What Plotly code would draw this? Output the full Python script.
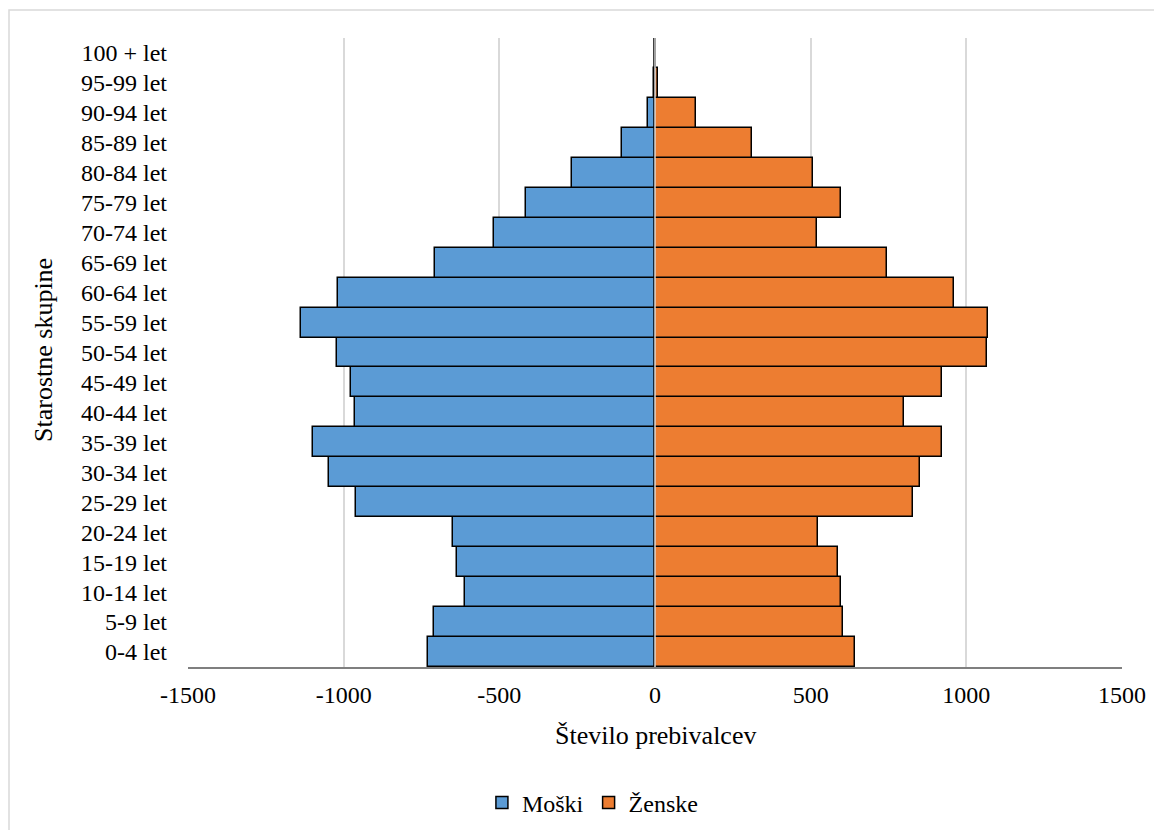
import plotly.graph_objects as go

age_groups = ["0-4 let", "5-9 let", "10-14 let", "15-19 let", "20-24 let", "25-29 let",
              "30-34 let", "35-39 let", "40-44 let", "45-49 let", "50-54 let", "55-59 let",
              "60-64 let", "65-69 let", "70-74 let", "75-79 let", "80-84 let", "85-89 let",
              "90-94 let", "95-99 let", "100 + let"]
moski = [-730, -711, -610, -637, -650, -962, -1046, -1098, -963, -976, -1022, -1136,
         -1017, -707, -518, -413, -267, -107, -24, -2, -1]
zenske = [643, 603, 599, 589, 524, 828, 852, 922, 801, 922, 1065, 1071,
          960, 744, 520, 596, 508, 313, 133, 11, 3]
x_ticks = [-1500, -1000, -500, 0, 500, 1000, 1500]

FONT = "'Times New Roman', 'Liberation Serif', 'DejaVu Serif', serif"
BLUE = "#5B9BD5"
ORANGE = "#ED7D31"
GRID = "#D9D9D9"

# page offset of 8px (body margin) compensated in margins
fig = go.Figure()
fig.add_trace(go.Bar(y=age_groups, x=moski, orientation="h", name="Moški",
                     marker=dict(color=BLUE, line=dict(color="black", width=1.5))))
fig.add_trace(go.Bar(y=age_groups, x=zenske, orientation="h", name="Ženske",
                     marker=dict(color=ORANGE, line=dict(color="black", width=1.5))))

fig.update_layout(
    width=1162, height=830,
    margin=dict(l=180, r=48, t=30, b=171),
    paper_bgcolor="white", plot_bgcolor="white",
    barmode="relative", bargap=0,
    font=dict(family=FONT, size=24, color="black"),
    showlegend=True,
    legend=dict(orientation="h", x=0.433, xanchor="center", y=-0.216, yanchor="middle",
                font=dict(family=FONT, size=24), itemwidth=30, traceorder="normal"),
    xaxis=dict(range=[-1500, 1500], tickvals=x_ticks, ticktext=[str(v) for v in x_ticks],
               showgrid=True, gridcolor=GRID, gridwidth=1.5, zeroline=False,
               showline=True, linecolor="#7F7F7F", linewidth=1.5, ticks="",
               ticklabelstandoff=5, tickfont=dict(family=FONT, size=24)),
    yaxis=dict(type="category", showgrid=False, zeroline=False, showline=False, ticks="",
               ticklabelstandoff=20, tickfont=dict(family=FONT, size=24)),
    shapes=[
        dict(type="line", xref="x", yref="paper", x0=0, x1=0, y0=0, y1=1,
             line=dict(color=GRID, width=1.5), layer="above"),
        dict(type="rect", xref="paper", yref="paper",
             x0=(9 - 188) / 934, x1=(1175 - 188) / 934, y0=(667 - 845) / 629, y1=(667 - 10) / 629,
             line=dict(color=GRID, width=1.5), layer="below"),
    ],
    annotations=[
        dict(text="Število prebivalcev", xref="paper", yref="paper", x=0.5, y=(667 - 735) / 629,
             xanchor="center", yanchor="middle", showarrow=False, font=dict(family=FONT, size=26)),
        dict(text="Starostne skupine", xref="paper", yref="paper", x=(43 - 188) / 934, y=(667 - 350) / 629,
             xanchor="center", yanchor="middle", textangle=-90, showarrow=False,
             font=dict(family=FONT, size=26)),
    ],
)

fig.write_html("out.html")
